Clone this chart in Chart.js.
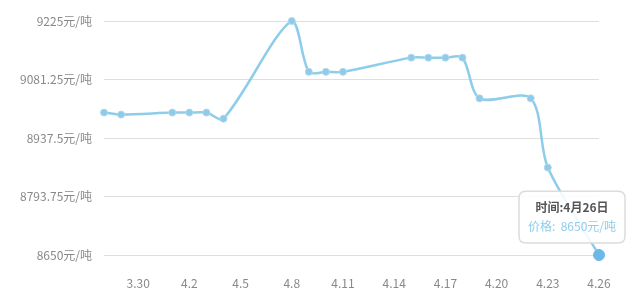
<!DOCTYPE html>
<html>
<head>
<meta charset="utf-8">
<script src="https://cdn.jsdelivr.net/npm/chart.js@4"></script>
<style>
  html, body { margin: 0; padding: 0; background: #fff; }
  #wrap { width: 640px; height: 296px; }
</style>
</head>
<body>
<div id="wrap"><canvas id="priceChart"></canvas></div>
<script>
const dates = ['3.28', '3.29', '3.30', '3.31', '4.1', '4.2', '4.3', '4.4', '4.5', '4.6',
    '4.7', '4.8', '4.9', '4.10', '4.11', '4.12', '4.13', '4.14', '4.15', '4.16',
    '4.17', '4.18', '4.19', '4.20', '4.21', '4.22', '4.23', '4.24', '4.25', '4.26'];
// null = no quote that day, line spans over it
const prices = [9000, 8995, null, null, 9000, 9000, 9000, 8985, null, null,
    null, 9225, 9100, 9100, 9100, null, null, null, 9135, 9135,
    9135, 9135, 9035, null, null, 9035, 8865, null, null, 8650];
const yTicks = [8650, 8793.75, 8937.5, 9081.25, 9225];

const lineColor = '#8dcdea';
const font = "'Noto Sans CJK SC', 'Noto Sans', sans-serif";

const tooltipAnchor = function (items) {
    if (!items.length) return false;
    const el = items[0].element;
    return { x: el.x - 27, y: el.y - 10 };
};
Chart.Tooltip.positioners.anchor = tooltipAnchor;

const ctx = document.getElementById('priceChart').getContext('2d');
const priceChart = new Chart(ctx, {
    type: 'line',
    data: {
        labels: dates,
        datasets: [{
            label: '价格',
            data: prices,
            borderColor: lineColor,
            backgroundColor: lineColor,
            borderWidth: 2.5,
            tension: 0.3,
            spanGaps: true,
            clip: false,
            pointRadius: 3.5,
            pointBackgroundColor: '#92c9e6',
            pointBorderColor: '#a9daf0',
            pointBorderWidth: 1,
            pointHoverRadius: 5.5,
            pointHoverBackgroundColor: '#6cb8e6',
            pointHoverBorderColor: '#6cb8e6'
        }]
    },
    options: {
        responsive: true,
        maintainAspectRatio: false,
        animation: false,
        layout: { padding: { top: 21, right: 41, left: 0, bottom: 0 } },
        plugins: {
            legend: { display: false },
            tooltip: {
                position: 'anchor',
                xAlign: 'center',
                yAlign: 'bottom',
                caretSize: 0,
                backgroundColor: 'rgba(255,255,255,0.88)',
                borderColor: '#dcdcdc',
                borderWidth: 1.5,
                cornerRadius: 7,
                padding: { x: 9, y: 9 },
                displayColors: false,
                titleAlign: 'center',
                bodyAlign: 'center',
                titleColor: '#555',
                titleFont: { family: font, size: 12, weight: 'bold' },
                titleMarginBottom: 5,
                bodyColor: '#8dcdea',
                bodyFont: { family: font, size: 12 },
                callbacks: {
                    title: items => {
                        const [m, d] = items[0].label.split('.');
                        return '时间:' + m + '月' + d + '日';
                    },
                    label: item => '价格:  ' + item.raw + '元/吨'
                }
            }
        },
        scales: {
            x: {
                offset: false,
                grid: { display: false },
                border: { display: false },
                afterFit: axis => { axis.height = 41; },
                ticks: {
                    autoSkip: false,
                    maxRotation: 0,
                    padding: 13,
                    color: '#888',
                    font: { family: font, size: 12 },
                    callback: function (value, index) {
                        return (dates.length - 1 - index) % 3 === 0 ? dates[index] : '';
                    }
                }
            },
            y: {
                min: yTicks[0],
                max: yTicks[yTicks.length - 1],
                afterBuildTicks: axis => { axis.ticks = yTicks.map(v => ({ value: v })); },
                afterFit: axis => { axis.width = 104; },
                grid: { color: '#dedede', drawTicks: false, lineWidth: 1 },
                border: { display: false },
                ticks: {
                    padding: 12,
                    color: '#888',
                    font: { family: font, size: 12 },
                    callback: value => value + '元/吨'
                }
            }
        }
    }
});

// show the hovered state on the last day, as in the picture
const lastIndex = prices.length - 1;
priceChart.setActiveElements([{ datasetIndex: 0, index: lastIndex }]);
priceChart.tooltip.setActiveElements([{ datasetIndex: 0, index: lastIndex }], { x: 0, y: 0 });
priceChart.update('none');
</script>
</body>
</html>
